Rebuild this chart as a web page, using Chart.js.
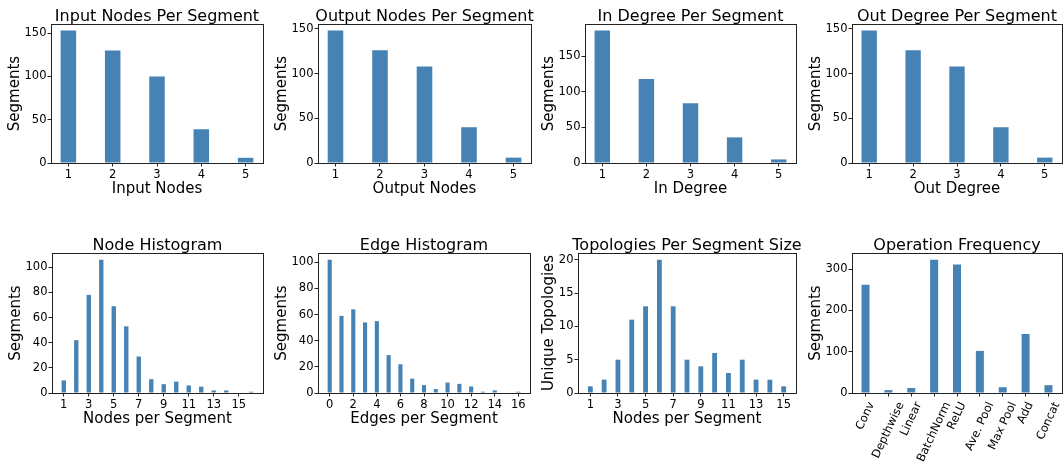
<!DOCTYPE html>
<html><head><meta charset="utf-8">
<script src="https://cdn.jsdelivr.net/npm/chart.js@4.4.1/dist/chart.umd.min.js"></script>
<style>
html,body{margin:0;padding:0;background:#fff;}
#fig{position:relative;width:1063px;height:463px;overflow:hidden;background:#fff;}
#fig canvas{position:absolute;}
</style></head><body><div id="fig"></div>
<script>
// ---------- data ----------
const inputNodesX = [1, 2, 3, 4, 5];
const inputNodesY = [153, 130, 100, 39, 6];
const outputNodesX = [1, 2, 3, 4, 5];
const outputNodesY = [148, 126, 108, 40, 6];
const inDegreeX = [1, 2, 3, 4, 5];
const inDegreeY = [186, 118, 84, 36, 5];
const outDegreeX = [1, 2, 3, 4, 5];
const outDegreeY = [148, 126, 108, 40, 6];
const nodeHistX = [1, 2, 3, 4, 5, 6, 7, 8, 9, 10, 11, 12, 13, 14, 15, 16];
const nodeHistY = [10, 42, 78, 106, 69, 53, 29, 11, 7, 9, 6, 5, 2, 2, 0, 1];
const edgeHistX = [0, 1, 2, 3, 4, 5, 6, 7, 8, 9, 10, 11, 12, 13, 14, 15, 16];
const edgeHistY = [102, 59, 64, 54, 55, 29, 22, 11, 6, 3, 8, 7, 5, 1, 2, 0, 1];
const topoX = [1, 2, 3, 4, 5, 6, 7, 8, 9, 10, 11, 12, 13, 14, 15];
const topoY = [1, 2, 5, 11, 13, 20, 13, 5, 4, 6, 3, 5, 2, 2, 1];
const opNames = ['Conv', 'Depthwise', 'Linear', 'BatchNorm', 'ReLU', 'Ave. Pool', 'Max Pool', 'Add', 'Concat'];
const opX = [0, 1, 2, 3, 4, 5, 6, 7, 8];
const opY = [262, 7, 12, 323, 311, 102, 14, 143, 19];

// tick labels
const ticks1to5 = [1, 2, 3, 4, 5];
const ticksOdd15 = [1, 3, 5, 7, 9, 11, 13, 15];
const ticksEven16 = [0, 2, 4, 6, 8, 10, 12, 14, 16];
const yTicks150 = [0, 50, 100, 150];
const yTicks100 = [0, 20, 40, 60, 80, 100];
const yTicks20 = [0, 5, 10, 15, 20];
const yTicks300 = [0, 100, 200, 300];

// ---------- rendering ----------
const FONT = '"DejaVu Sans", "Liberation Sans", sans-serif';
const fig = document.getElementById('fig');

const decor = {
  id: 'decor',
  afterDraw(chart, args, o) {
    const ctx = chart.ctx, a = chart.chartArea;
    ctx.save();
    ctx.strokeStyle = '#222';
    ctx.lineWidth = 1;
    const l = Math.round(a.left), t = Math.round(a.top), r = Math.round(a.right), b = Math.round(a.bottom);
    ctx.strokeRect(l + 0.5, t + 0.5, r - l, b - t);
    ctx.fillStyle = '#000';
    ctx.textAlign = 'center';
    ctx.textBaseline = 'alphabetic';
    ctx.font = '16px ' + FONT;
    ctx.fillText(o.title, (a.left + a.right) / 2, a.top - 3.5);
    ctx.font = '15px ' + FONT;
    ctx.fillText(o.xlabel, (a.left + a.right) / 2, a.bottom + 29.5);
    ctx.save();
    ctx.translate(a.left - o.ylabelOff, (a.top + a.bottom) / 2);
    ctx.rotate(-Math.PI / 2);
    ctx.textBaseline = 'middle';
    ctx.fillText(o.ylabel, 0, 0);
    ctx.restore();
    if (o.rotLabels) {
      ctx.font = '11.5px ' + FONT;
      const th = o.rotAngle * Math.PI / 180;
      const xs = chart.scales.x;
      o.rotLabels.forEach((lab, i) => {
        const w = ctx.measureText(lab).width, h = 11.5 * 1.16;
        const bh = w * Math.sin(th) + h * Math.cos(th);
        const cx = xs.getPixelForValue(o.rotValues[i]);
        const cy = a.bottom + 7 + bh / 2;
        ctx.save();
        ctx.translate(cx, cy);
        ctx.rotate(-th);
        ctx.textAlign = 'center';
        ctx.textBaseline = 'middle';
        ctx.fillText(lab, 0, 0);
        ctx.restore();
      });
    }
    ctx.restore();
  }
};

function makeChart(spec) {
  const padL = 60, padT = 30, padR = 20, padB = 70;
  const W = spec.R - spec.L, H = spec.B - spec.T;
  const cv = document.createElement('canvas');
  cv.width = W + padL + padR;
  cv.height = H + padT + padB;
  cv.style.left = (spec.L - padL) + 'px';
  cv.style.top = (spec.T - padT) + 'px';
  cv.style.width = cv.width + 'px';
  cv.style.height = cv.height + 'px';
  fig.appendChild(cv);
  const bw = 0.35;
  const lo = Math.min(...spec.x) - bw / 2, hi = Math.max(...spec.x) + bw / 2, m = 0.05 * (hi - lo);
  const ymax = 1.05 * Math.max(...spec.y);
  const tickFont = { family: FONT, size: 11.5 };
  new Chart(cv, {
    type: 'bar',
    data: {
      datasets: [{
        data: spec.x.map((x, i) => ({ x: x, y: spec.y[i] })),
        backgroundColor: '#4682b4',
        borderWidth: 0,
        barPercentage: bw,
        categoryPercentage: 1
      }]
    },
    options: {
      responsive: false,
      animation: false,
      devicePixelRatio: 1,
      layout: { padding: { top: padT, right: padR, bottom: 0, left: 0 } },
      plugins: {
        legend: { display: false },
        tooltip: { enabled: false },
        decor: {
          title: spec.title, xlabel: spec.xlabel, ylabel: spec.ylabel, ylabelOff: spec.ylabelOff,
          rotLabels: spec.rotLabels || null, rotValues: spec.x, rotAngle: 65
        }
      },
      scales: {
        x: {
          type: 'linear', offset: false, min: lo - m, max: hi + m,
          afterBuildTicks: s => { s.ticks = spec.xticks.map(v => ({ value: v })); },
          afterFit: s => { s.height = padB; s.paddingLeft = 0; s.paddingRight = 0; },
          ticks: { display: !spec.rotLabels, font: tickFont, color: '#000', padding: 1.5, maxRotation: 0, minRotation: 0, autoSkip: false, callback: v => String(v) },
          grid: { display: true, drawOnChartArea: false, drawTicks: true, tickLength: 3.5, color: '#222', offset: false },
          border: { display: false }
        },
        y: {
          type: 'linear', min: 0, max: ymax,
          afterBuildTicks: s => { s.ticks = spec.yticks.map(v => ({ value: v })); },
          afterFit: s => { s.width = padL; s.paddingTop = 0; s.paddingBottom = 0; },
          ticks: { font: tickFont, color: '#000', padding: 1, autoSkip: false, callback: v => String(v) },
          grid: { display: true, drawOnChartArea: false, drawTicks: true, tickLength: 3.5, color: '#222' },
          border: { display: false }
        }
      }
    },
    plugins: [decor]
  });
}

const TOP = { T: 24, B: 163 }, BOT = { T: 253, B: 393 };
makeChart(Object.assign({ L: 51, R: 263, x: inputNodesX, y: inputNodesY, xticks: ticks1to5, yticks: yTicks150, title: 'Input Nodes Per Segment', xlabel: 'Input Nodes', ylabel: 'Segments', ylabelOff: 36 }, TOP));
makeChart(Object.assign({ L: 318, R: 531, x: outputNodesX, y: outputNodesY, xticks: ticks1to5, yticks: yTicks150, title: 'Output Nodes Per Segment', xlabel: 'Output Nodes', ylabel: 'Segments', ylabelOff: 36 }, TOP));
makeChart(Object.assign({ L: 585, R: 796, x: inDegreeX, y: inDegreeY, xticks: ticks1to5, yticks: yTicks150, title: 'In Degree Per Segment', xlabel: 'In Degree', ylabel: 'Segments', ylabelOff: 35.5 }, TOP));
makeChart(Object.assign({ L: 852, R: 1062, x: outDegreeX, y: outDegreeY, xticks: ticks1to5, yticks: yTicks150, title: 'Out Degree Per Segment', xlabel: 'Out Degree', ylabel: 'Segments', ylabelOff: 36 }, TOP));
makeChart(Object.assign({ L: 52, R: 263, x: nodeHistX, y: nodeHistY, xticks: ticksOdd15, yticks: yTicks100, title: 'Node Histogram', xlabel: 'Nodes per Segment', ylabel: 'Segments', ylabelOff: 36 }, BOT));
makeChart(Object.assign({ L: 318, R: 530, x: edgeHistX, y: edgeHistY, xticks: ticksEven16, yticks: yTicks100, title: 'Edge Histogram', xlabel: 'Edges per Segment', ylabel: 'Segments', ylabelOff: 36 }, BOT));
makeChart(Object.assign({ L: 578, R: 796, x: topoX, y: topoY, xticks: ticksOdd15, yticks: yTicks20, title: 'Topologies Per Segment Size', xlabel: 'Nodes per Segment', ylabel: 'Unique Topologies', ylabelOff: 29 }, BOT));
makeChart(Object.assign({ L: 852, R: 1062, x: opX, y: opY, xticks: opX, yticks: yTicks300, title: 'Operation Frequency', xlabel: '', ylabel: 'Segments', ylabelOff: 36, rotLabels: opNames }, BOT));
</script>
</body></html>
